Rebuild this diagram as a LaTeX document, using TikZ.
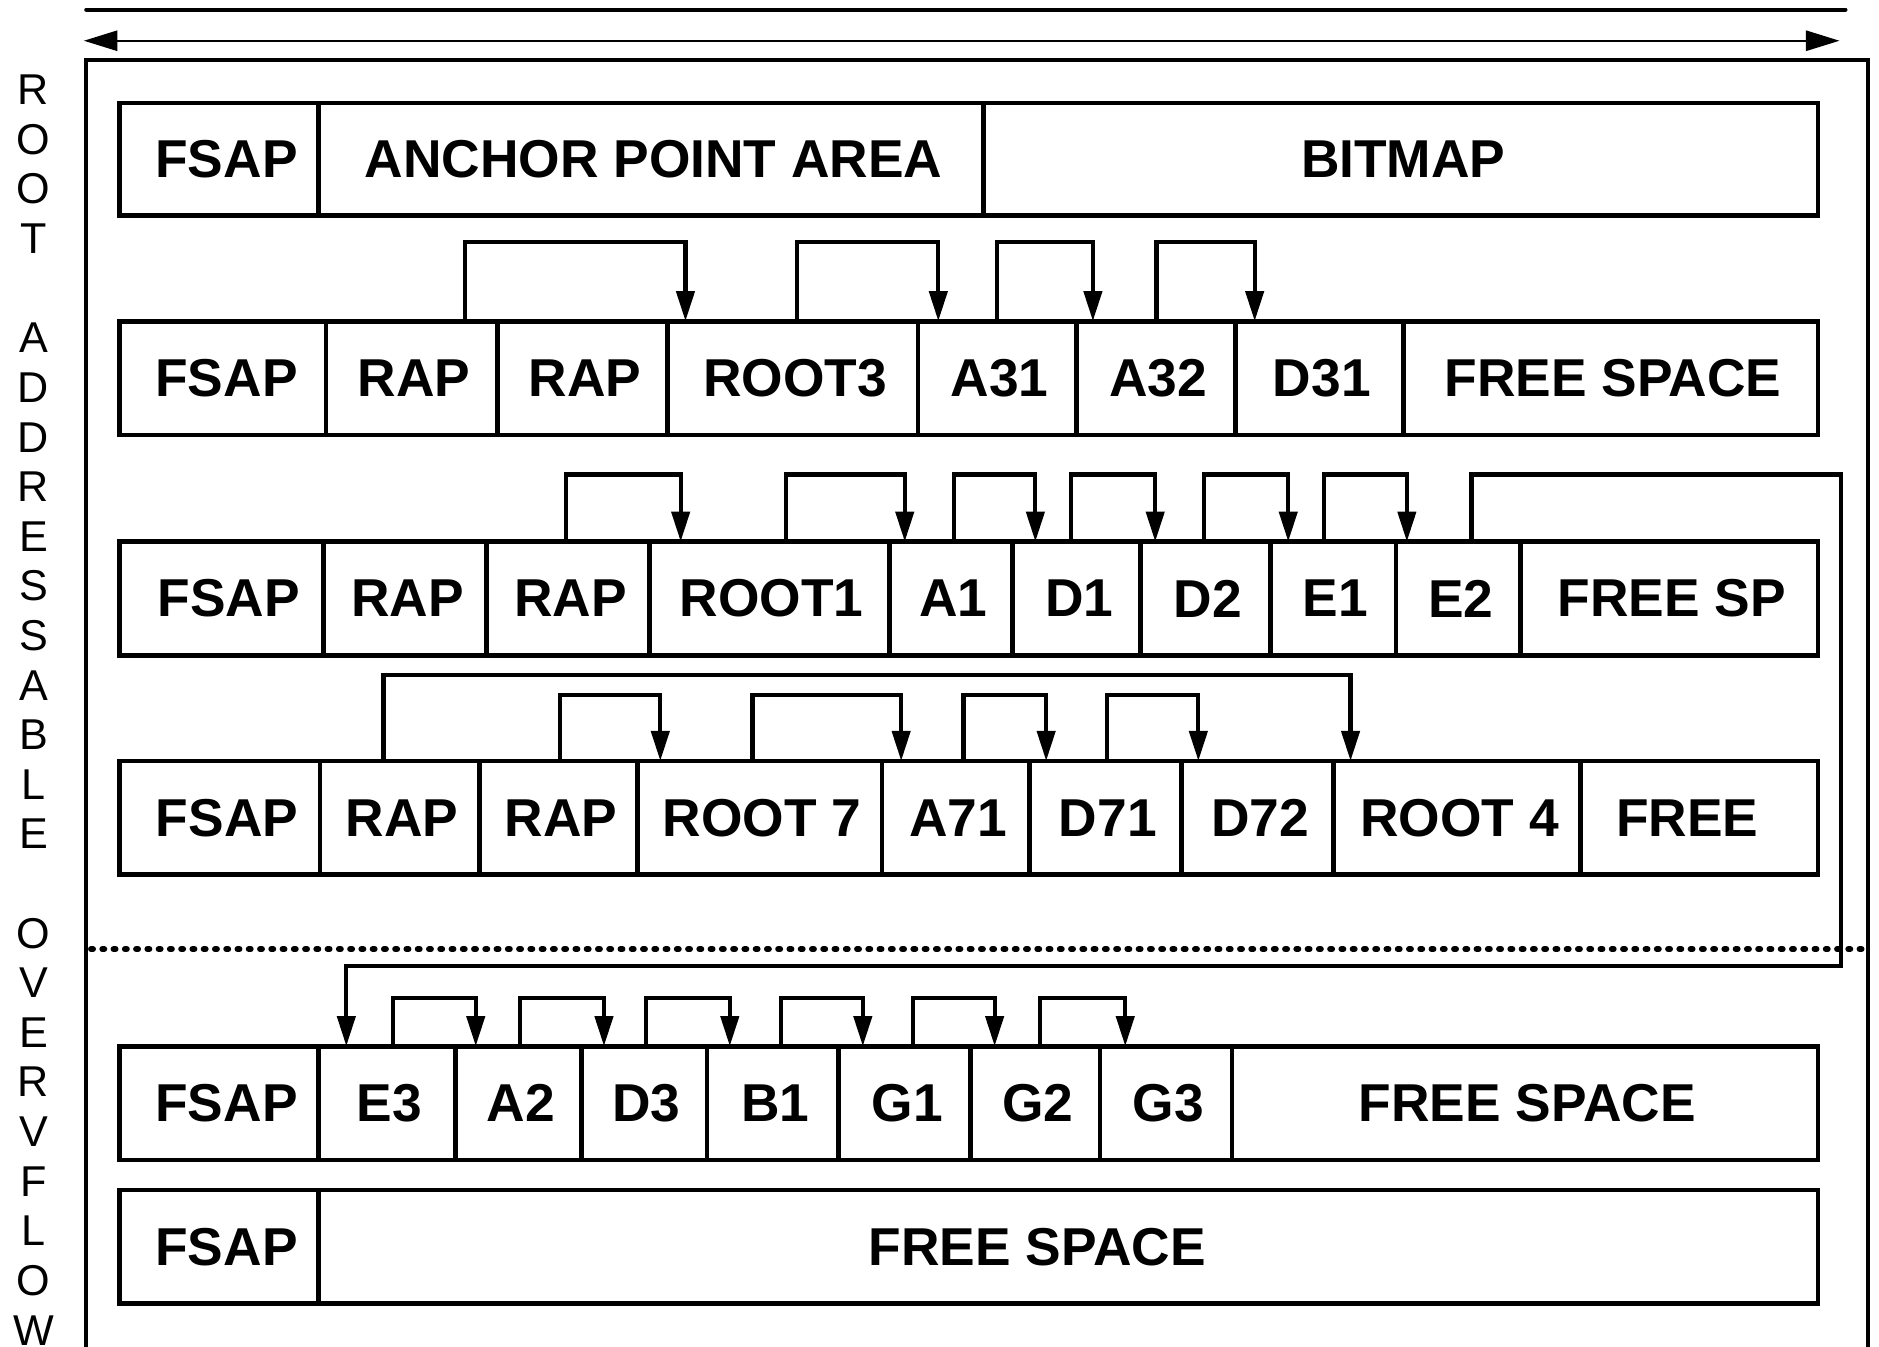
\documentclass[tikz,border=0pt]{standalone}
\usepackage{fontspec}
\setmainfont{Liberation Sans}
\usetikzlibrary{arrows.meta}
\newcommand\cellbox[6]{\node[cell, minimum width={(#3-#2)*0.5pt}, minimum height={(#5-#4)*0.5pt}] (#1) at ({(#2+#3)/2},{(#4+#5)/2}) {#6};}
\newcommand\linkto[5]{\draw[conn] (#1.north -| #2,0) |- (#4,#5) -- (#3.north -| #4,0);}
\newcommand\fsap{\hspace*{4pt}FSAP}
\begin{document}
\begin{tikzpicture}[x={(0.5pt,0)}, y={(0,-0.5pt)},
  cell/.style={draw, line width=2pt, inner sep=0pt, outer sep=0pt, font=\bfseries\fontsize{22.25}{26}\selectfont, execute at begin node={\hspace*{2pt}}},
  conn/.style={line width=1.75pt, -{Triangle[length=12.5pt,width=7.5pt]}},
  side/.style={inner sep=0pt, font=\fontsize{18}{20}\selectfont}]
\clip (0,0) rectangle (1568,1124);
% top lines
\draw[line width=1.7pt, line cap=round] (72,8) -- (1540,8);
\draw[line width=0.7pt, {Triangle[length=14pt,width=8.5pt]}-{Triangle[length=14pt,width=8.5pt]}] (70,34) -- (1535,34);
% outer frame
\draw[line width=1.6pt] (72,1140) -- (72,50) -- (1559,50) -- (1559,1140);
% side letters
\foreach \ch/\k in {R/0,O/1,O/2,T/3,A/5,D/6,D/7,R/8,E/9,S/10,S/11,A/12,B/13,L/14,E/15,O/17,V/18,E/19,R/20,V/21,F/22,L/23,O/24,W/25}
  \node[side] (L\k) at (28,{75+\k*41.4}) {\ch};
% row 1
\cellbox{r1c1}{100}{266}{86}{180}{\fsap}
\cellbox{r1c2}{266}{821}{86}{180}{ANCHOR POINT AREA}
\cellbox{r1c3}{821}{1517}{86}{180}{BITMAP}
% row 2
\cellbox{r2c1}{100}{272}{268}{363}{\hspace*{1pt}FSAP}
\cellbox{r2c2}{272}{415}{268}{363}{RAP}
\cellbox{r2c3}{415}{557}{268}{363}{RAP}
\cellbox{r2c4}{557}{766}{268}{363}{ROOT3}
\cellbox{r2c5}{766}{898}{268}{363}{A31}
\cellbox{r2c6}{898}{1031}{268}{363}{A32}
\cellbox{r2c7}{1031}{1171}{268}{363}{D31}
\cellbox{r2c8}{1171}{1517}{268}{363}{FREE SPACE}
% row 3
\cellbox{r3c1}{100}{270}{452}{547}{\fsap}
\cellbox{r3c2}{270}{406}{452}{547}{RAP}
\cellbox{r3c3}{406}{542}{452}{547}{RAP}
\cellbox{r3c4}{542}{742}{452}{547}{ROOT1}
\cellbox{r3c5}{742}{845}{452}{547}{A1}
\cellbox{r3c6}{845}{952}{452}{547}{D1}
\cellbox{r3c7}{952}{1060}{452}{547}{D2}
\cellbox{r3c8}{1060}{1165}{452}{547}{E1}
\cellbox{r3c9}{1165}{1269}{452}{547}{E2}
\cellbox{r3c10}{1269}{1517}{452}{547}{FREE SP}
% row 4
\cellbox{r4c1}{100}{267}{635}{730}{\fsap}
\cellbox{r4c2}{267}{400}{635}{730}{RAP}
\cellbox{r4c3}{400}{532}{635}{730}{RAP}
\cellbox{r4c4}{532}{736}{635}{730}{ROOT 7}
\cellbox{r4c5}{736}{859}{635}{730}{A71}
\cellbox{r4c6}{859}{986}{635}{730}{D71}
\cellbox{r4c7}{986}{1113}{635}{730}{D72}
\cellbox{r4c8}{1113}{1319}{635}{730}{ROOT 4}
\cellbox{r4c9}{1319}{1517}{635}{730}{\hspace*{-12pt}FREE}
% row 5
\cellbox{r5c1}{100}{266}{873}{968}{\fsap}
\cellbox{r5c2}{266}{380}{873}{968}{E3}
\cellbox{r5c3}{380}{485}{873}{968}{A2}
\cellbox{r5c4}{485}{590}{873}{968}{D3}
\cellbox{r5c5}{590}{700}{873}{968}{B1}
\cellbox{r5c6}{700}{810}{873}{968}{G1}
\cellbox{r5c7}{810}{918}{873}{968}{G2}
\cellbox{r5c8}{918}{1028}{873}{968}{G3}
\cellbox{r5c9}{1028}{1517}{873}{968}{FREE SPACE}
% row 6
\cellbox{r6c1}{100}{266}{993}{1088}{\fsap}
\cellbox{r6c2}{266}{1517}{993}{1088}{\hspace*{-28pt}FREE SPACE}
% dotted separator
\draw[line width=2.5pt, line cap=round, dash pattern=on 0.8pt off 3.9pt] (76,792) -- (1557,792);
% row 2 links
\linkto{r2c2}{388}{r2c4}{572}{202}
\linkto{r2c4}{665}{r2c5}{783}{202}
\linkto{r2c5}{832}{r2c6}{912}{202}
\linkto{r2c6}{965}{r2c7}{1047}{202}
% row 3 links
\linkto{r3c3}{472}{r3c4}{568}{396}
\linkto{r3c4}{656}{r3c5}{755}{396}
\linkto{r3c5}{796}{r3c6}{864}{396}
\linkto{r3c6}{894}{r3c7}{964}{396}
\linkto{r3c7}{1005}{r3c8}{1075}{396}
\linkto{r3c8}{1105}{r3c9}{1174}{396}
\draw[conn] (r3c9.north -| 1228,0) |- (1536,396) |- (289,806) -- (r5c2.north -| 289,0);
% row 4 links
\linkto{r4c2}{320}{r4c8}{1127}{563}
\linkto{r4c3}{467}{r4c4}{551}{580}
\linkto{r4c4}{628}{r4c5}{752}{580}
\linkto{r4c5}{804}{r4c6}{873}{580}
\linkto{r4c6}{924}{r4c7}{1000}{580}
% row 5 links
\linkto{r5c2}{328}{r5c3}{397}{833}
\linkto{r5c3}{434}{r5c4}{504}{833}
\linkto{r5c4}{539}{r5c5}{609}{833}
\linkto{r5c5}{652}{r5c6}{720}{833}
\linkto{r5c6}{762}{r5c7}{830}{833}
\linkto{r5c7}{868}{r5c8}{939}{833}
\end{tikzpicture}
\end{document}
